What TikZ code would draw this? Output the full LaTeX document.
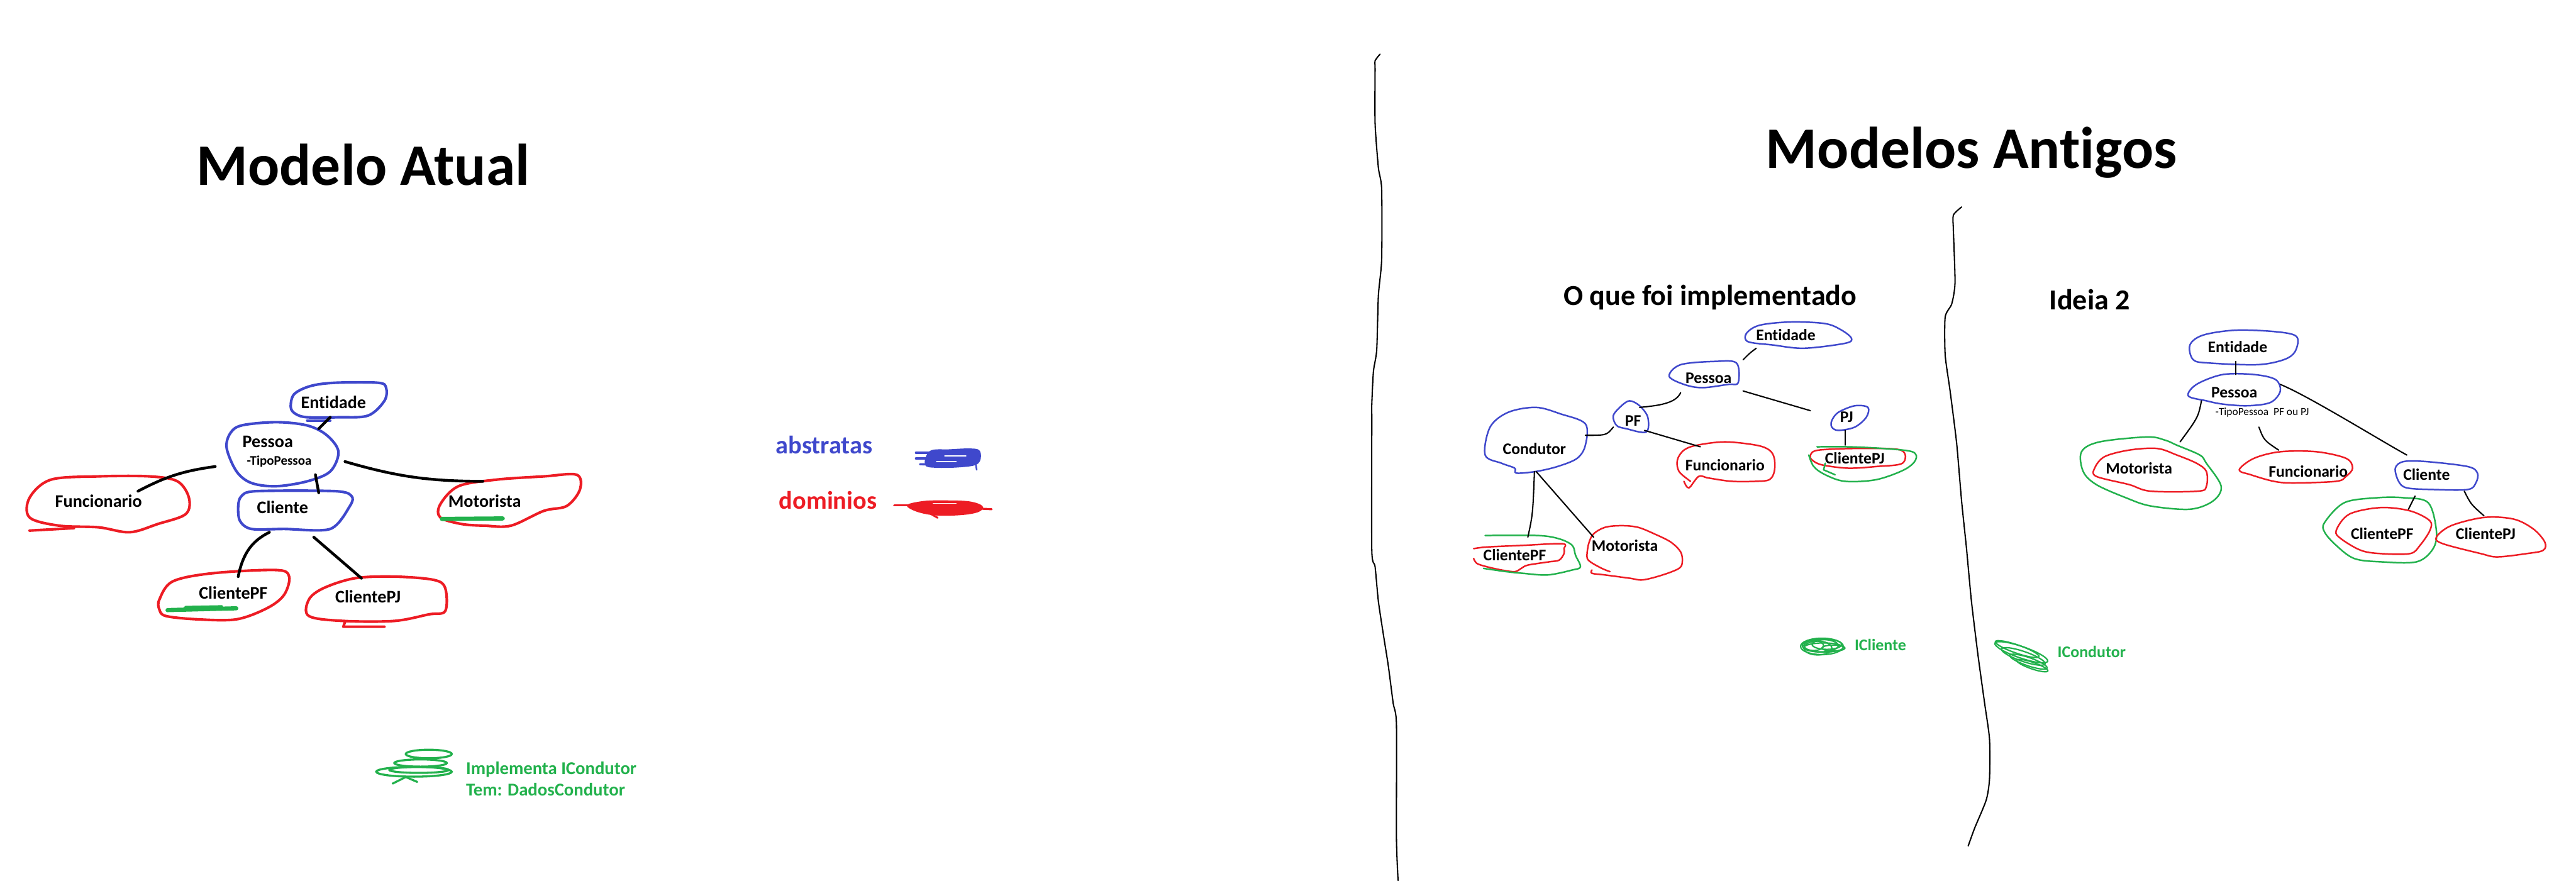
\documentclass[tikz,border=0pt]{standalone}
\usepackage{fontspec}
\setmainfont{Carlito}[Ligatures=NoCommon]
\usetikzlibrary{calc}
\definecolor{pblue}{HTML}{3F48CC}
\definecolor{pred}{HTML}{ED1C24}
\definecolor{pgreen}{HTML}{22B14C}
\begin{document}
\begin{tikzpicture}[x=0.03326cm, y=-0.03326cm,
  lblA/.style={font=\fontsize{10.2}{12}\selectfont\bfseries, inner sep=0pt},
  lblB/.style={font=\fontsize{9.3}{11}\selectfont\bfseries, inner sep=0pt},
  titleA/.style={font=\fontsize{33.9}{40}\selectfont\bfseries, inner sep=0pt, anchor=base},
  titleB/.style={font=\fontsize{16.7}{20}\selectfont\bfseries, inner sep=0pt, anchor=base},
  gtext/.style={font=\fontsize{10.4}{13}\selectfont\bfseries, text=pgreen, inner sep=0pt, anchor=base west},
  gtextS/.style={font=\fontsize{9.4}{11}\selectfont\bfseries, text=pgreen, inner sep=0pt, anchor=base west},
  legend/.style={font=\fontsize{14.6}{17}\selectfont\bfseries, inner sep=0pt, anchor=base},
  blobL/.style={line width=1.5pt, line join=round, line cap=round},
  blobM/.style={line width=0.9pt, line join=round, line cap=round},
  conL/.style={line width=1.6pt, line cap=round, line join=round},
  conM/.style={line width=0.75pt, line cap=round, line join=round},
  divider/.style={line width=0.75pt, line join=round, line cap=round},
  scrib/.style={pgreen, line width=0.8pt},
]
\useasboundingbox (0,0) rectangle (1568,536);

% ---------------- titles ----------------
\node[titleA] (tAtual) at (221,112.7) {Modelo Atual};
\node[titleA] (tAntigos) at (1200,102.5) {Modelos Antigos};
\node[titleB] (tImpl) at (1041,186) {O que foi implementado};
\node[titleB] (tIdeia) at (1272,188.7) {Ideia 2};

% ---------------- dividers ----------------
\draw[divider] plot[smooth, tension=0.4] coordinates {(840,33) (837,37) (837,42) (837,75) (839,102) (841,115) (841,158) (839,180) (838,213) (836,226) (835,246) (835,257) (835,335) (837,345) (839,366) (842,386) (845,405) (848,428) (850,441) (850,510) (851,536)};
\draw[divider] plot[smooth, tension=0.4] coordinates {(1194,126) (1189,131) (1189,140) (1190,172) (1188,185) (1184,193) (1184,216) (1187,238) (1191,270) (1194,305) (1197,334) (1200,366) (1204,399) (1208,428) (1211,450) (1211,474) (1209,487) (1202,504) (1198,515)};

% ================= Modelo Atual =================
\node[lblA] (LEnt) at (203,245) {Entidade};
\node[lblA] (LPes) at (163,269) {Pessoa};
\node[font=\fontsize{7.6}{9}\selectfont\bfseries, inner sep=0pt] (LTipo) at (170,281) {-TipoPessoa};
\node[lblA] (LFun) at (60,305) {Funcionario};
\node[lblA] (LCli) at (172,309) {Cliente};
\node[lblA] (LMot) at (295,305) {Motorista};
\node[lblA] (LCPF) at (142,361) {ClientePF};
\node[lblA] (LCPJ) at (224,363) {ClientePJ};

% blobs
\draw[blobL, pblue] plot[smooth cycle, tension=0.55] coordinates {(177,248) (179,240) (189,235) (204,233) (230,233) (235,236) (234,244) (224,253) (206,254) (187,254) (180,252)};
\draw[blobL, pblue] (187,256) -- (201,256);
\draw[blobL, pblue] plot[smooth cycle, tension=0.55] coordinates {(138,273) (140,264) (147,259) (168,257) (187,259) (199,265) (206,275) (201,287) (187,293) (168,296) (153,294) (144,287)};
\draw[blobL, pblue] plot[smooth cycle, tension=0.5] coordinates {(145,308) (147,302) (156,299) (204,299) (214,302) (213,308) (201,322) (173,322) (153,322) (146,317)};
\draw[blobL, pred] plot[smooth cycle, tension=0.55] coordinates {(18,303) (31,292) (60,290) (91,290) (108,293) (115,303) (113,313) (96,319) (79,324) (60,321) (36,320) (18,315)};
\draw[blobL, pred] (18,323) -- (45,321.5);
\draw[blobL, pred] plot[smooth cycle, tension=0.55] coordinates {(268,307) (279,296) (302,292) (331,290) (351,289) (353,298) (345,308) (331,311) (311,320) (295,320) (281,319) (268,315)};
\draw[blobL, pred] plot[smooth cycle, tension=0.55] coordinates {(97,365) (105,354) (129,349) (168,347) (176,351) (173,362) (163,370) (144,377) (120,377) (101,375) (97,371)};
\draw[blobL, pred] plot[smooth cycle, tension=0.55] coordinates {(188,365) (197,358) (216,352) (240,351) (264,353) (271,358) (271,372) (261,374) (240,378) (209,378) (188,375)};
\draw[blobL, pred] (210,378.5) -- (209,381.5) -- (234,381.5);
\draw[pgreen, line width=2.4pt, line cap=round] (269,315.9) -- (306,315.6);
\draw[pgreen, line width=2.4pt, line cap=round] (102,371.4) -- (143.8,370.3);
\draw[pgreen, line width=1.5pt, line cap=round] (113,369.6) -- (135,369.2);

% connectors
\draw[conL] ($(LEnt)+(-2,9)$) -- ($(LPes)+(31,-8)$);
\draw[conL] ($(LPes)+(-32,15)$) to[bend right=10] ($(LFun)+(24,-6)$);
\draw[conL] ($(LPes)+(47,12)$) to[bend right=8] ($(LMot)+(-1,-12)$);
\draw[conL] ($(LPes)+(29,20)$) -- ($(LCli)+(22,-9)$);
\draw[conL] ($(LCli)+(-8,15)$) .. controls ($(LCli)+(-18,20)$) and ($(LCPF)+(6,-25)$) .. ($(LCPF)+(3,-10)$);
\draw[conL] ($(LCli)+(19,18)$) -- ($(LCPJ)+(-4,-11)$);

% legend
\node[legend, text=pblue] (Labs) at (501.7,276.1) {abstratas};
\node[legend, text=pred] (Ldom) at (504,309.9) {dominios};
\fill[pblue] plot[smooth cycle, tension=0.6] coordinates {(566,274.5) (578,273.5) (590,273) (596,274) (597,279) (594,283) (584,284.5) (570,284.8) (563,283)};
\draw[pblue, line width=1.2pt, line cap=round] (557.5,275.6) -- (575,275.6);
\draw[pblue, line width=1.2pt, line cap=round] (557.5,279.1) -- (572,279.1);
\draw[pblue, line width=1.2pt, line cap=round] (560,282.6) -- (575,283);
\draw[white, line width=0.5pt, line cap=round] (575,277.5) -- (588,277.5);
\draw[white, line width=0.5pt, line cap=round] (570,281) -- (582,281);
\draw[pblue, line width=0.9pt, line cap=round] (594,283) -- (594.5,286);
\fill[pred] plot[smooth cycle, tension=0.6] coordinates {(552,307.5) (562,305) (575,304.6) (590,305.2) (598,308) (596,311.5) (586,313.5) (570,313.8) (558,311.5)};
\draw[white, line width=0.5pt, line cap=round] (568,306.5) -- (582,306.5);
\draw[pred, line width=1.2pt, line cap=round] (544.3,307.5) -- (560,307.5);
\draw[pred, line width=1.2pt, line cap=round] (585,309) -- (603.6,310);
\draw[pred, line width=1.1pt, line cap=round] (565.5,312.2) -- (570.7,315.2);

% green note
\draw[pgreen, line width=1.2pt] (261,459) ellipse [x radius=14, y radius=2.6];
\draw[pgreen, line width=1.2pt] (256,464.5) ellipse [x radius=16, y radius=2.2];
\draw[pgreen, line width=1.2pt] (252,469.8) ellipse [x radius=23, y radius=3];
\draw[pgreen, line width=1.2pt] (255,468.7) ellipse [x radius=18, y radius=1.8];
\draw[pgreen, line width=1.2pt, line cap=round, line join=round] (239,477) -- (247,473) -- (254,476);
\node[gtext] (GImp1) at (283.5,471.5) {Implementa ICondutor};
\node[gtext] (GImp2) at (283.5,484.6) {Tem: DadosCondutor};

% ================= O que foi implementado =================
\node[lblB] (MEnt) at (1087,204) {Entidade};
\node[lblB] (MPes) at (1040,230) {Pessoa};
\node[lblB] (MPF) at (994,256) {PF};
\node[lblB] (MPJ) at (1124,254) {PJ};
\node[lblB] (MCPJ) at (1129,279) {ClientePJ};
\node[lblB] (MCond) at (934,273) {Condutor};
\node[lblB] (MFun) at (1050,283) {Funcionario};
\node[lblB] (MCPF) at (922,338) {ClientePF};
\node[lblB] (MMot) at (989,332) {Motorista};

\draw[blobM, pblue] plot[smooth cycle, tension=0.55] coordinates {(1063,203) (1071,198) (1090,196) (1111,197) (1121,201) (1127,206) (1123,209) (1098,212) (1079,210) (1064,208)};
\draw[blobM, pblue] plot[smooth cycle, tension=0.55] coordinates {(1016,229) (1023,222) (1044,220) (1057,221) (1058,233) (1052,234) (1036,236) (1025,234)};
\draw[blobM, pblue] plot[smooth cycle, tension=0.55] coordinates {(982,253) (987,247) (992,244) (998,247) (1003,254) (1002,263) (990,261) (984,259)};
\draw[blobM, pblue] plot[smooth cycle, tension=0.55] coordinates {(1115,256) (1119,251) (1129,247) (1137,248) (1136,254) (1129,260) (1119,262) (1115,260)};
\draw[blobM, pblue] plot[smooth cycle, tension=0.55] coordinates {(904,277) (907,260) (918,251) (935,248) (950,252) (965,258) (965,271) (960,279) (948,284) (935,287) (923,288) (922,285) (914,282)};
\draw[blobM, pred] plot[smooth cycle, tension=0.55] coordinates {(1102,277) (1107,274) (1132,273) (1157,274) (1158,282) (1142,284) (1125,285) (1109,283) (1103,280)};
\draw[blobM, pgreen] plot[smooth, tension=0.55] coordinates {(1106,272) (1125,272) (1146,273) (1164,275) (1166,280) (1159,286) (1142,292) (1123,293) (1111,289) (1104,284) (1101,277)};
\draw[blobM, pgreen] (1111,282) -- (1110,286) -- (1117,289);
\draw[blobM, pred] plot[smooth, tension=0.55] coordinates {(1029,293) (1022,287) (1021,280) (1025,274) (1033,271) (1050,269) (1069,271) (1077,274) (1080,279) (1080,287) (1077,292) (1069,293) (1054,293) (1040,291) (1034,290) (1028,297) (1025,293)};
\draw[blobM, pred] plot[smooth, tension=0.55] coordinates {(897,334) (905,333) (927,332) (951,331) (952,334) (952,337) (949,341) (943,342) (930,344) (926,346) (922,348) (914,347) (905,345) (899,343) (897,340)};
\draw[blobM, pgreen] plot[smooth, tension=0.55] coordinates {(904,326) (936,326) (949,328) (957,332) (959,338) (962,345) (957,347) (942,350) (927,349) (917,348) (903,346)};
\draw[blobM, pred] plot[smooth, tension=0.55] coordinates {(980,348) (975,346) (968,342) (966,339) (967,331) (970,325) (977,321) (987,320) (997,321) (1007,325) (1017,330) (1023,336) (1024,342) (1022,346) (1012,350) (1000,353) (992,352) (977,350) (969,349) (969,347)};

\draw[conM] ($(MEnt)+(-18,8)$) .. controls ($(MEnt)+(-22,11)$) .. ($(MPes)+(21,-11)$);
\draw[conM] ($(MPes)+(-17,9)$) .. controls ($(MPes)+(-20,16)$) and ($(MPF)+(14,-9)$) .. ($(MPF)+(4,-8)$);
\draw[conM] ($(MPes)+(21,8)$) -- ($(MPJ)+(-22,-4)$);
\draw[conM] ($(MPJ)+(-1,8)$) -- ($(MCPJ)+(-6,-8)$);
\draw[conM] ($(MPF)+(-12,4)$) .. controls ($(MPF)+(-16,9)$) .. ($(MCond)+(31,-8)$);
\draw[conM] ($(MPF)+(7,6)$) -- ($(MFun)+(-15,-11)$);
\draw[conM] ($(MCond)+(0,14)$) .. controls ($(MCond)+(-1,40)$) .. ($(MCPF)+(8,-11)$);
\draw[conM] ($(MCond)+(1,14)$) -- ($(MMot)+(-19,-5)$);

% ICliente
\draw[scrib] (1109,393.5) ellipse [x radius=13, y radius=5];
\draw[scrib] (1108,393) ellipse [x radius=11, y radius=3.8];
\draw[scrib] (1110,394.2) ellipse [x radius=12, y radius=2.8];
\draw[scrib] (1106.5,394.5) ellipse [x radius=8.5, y radius=4.2];
\draw[scrib] (1112,392.3) ellipse [x radius=9, y radius=3];
\draw[scrib] (1116,394.5) ellipse [x radius=7, y radius=1.8];
\draw[scrib] (1104,393) ellipse [x radius=6, y radius=3];
\node[gtextS] (GICli) at (1128.7,395.9) {ICliente};

% ================= Ideia 2 =================
\node[lblB] (REnt) at (1362,211) {Entidade};
\node[lblB] (RPes) at (1360,239) {Pessoa};
\node[font=\fontsize{6.3}{7.5}\selectfont, inner sep=0pt] (RTipo) at (1377,251) {-TipoPessoa\ \ PF ou PJ};
\node[lblB] (RMot) at (1302,285) {Motorista};
\node[lblB] (RFun) at (1405,287) {Funcionario};
\node[lblB] (RCli) at (1477,289) {Cliente};
\node[lblB] (RCPF) at (1450,325) {ClientePF};
\node[lblB] (RCPJ) at (1513,325) {ClientePJ};

\draw[blobM, pblue] plot[smooth cycle, tension=0.55] coordinates {(1333,210) (1341,204) (1361,201) (1386,202) (1398,205) (1397,214) (1390,219) (1374,222) (1345,221) (1335,219)};
\draw[blobM, pblue] plot[smooth cycle, tension=0.55] coordinates {(1332,241) (1337,234) (1353,228) (1372,228) (1385,231) (1388,238) (1382,245) (1368,247) (1353,246) (1343,244)};
\draw[blobM, pblue] plot[smooth cycle, tension=0.55] coordinates {(1458,285) (1463,281) (1477,281) (1502,284) (1508,288) (1507,294) (1502,298) (1481,298) (1465,297) (1460,293)};
\draw[blobM, pgreen] plot[smooth cycle, tension=0.55] coordinates {(1267,275) (1278,269) (1307,266) (1318,268) (1325,271) (1339,277) (1343,282) (1352,296) (1347,305) (1333,310) (1309,308) (1294,303) (1276,295) (1268,287)};
\draw[blobM, pred] plot[smooth cycle, tension=0.55] coordinates {(1275,285) (1281,278) (1296,274) (1313,273) (1325,277) (1337,282) (1343,287) (1343,296) (1338,299) (1309,299) (1296,295) (1276,290)};
\draw[blobM, pred] plot[smooth cycle, tension=0.55] coordinates {(1363,286) (1372,279) (1388,275) (1410,275) (1428,279) (1432,285) (1428,290) (1422,293) (1396,294) (1384,293) (1370,289)};
\draw[blobM, pgreen] plot[smooth cycle, tension=0.55] coordinates {(1415,318) (1427,306) (1447,303) (1463,303) (1478,306) (1483,323) (1481,334) (1471,342) (1449,342) (1433,340) (1422,332) (1415,324)};
\draw[blobM, pred] plot[smooth cycle, tension=0.55] coordinates {(1422,323) (1430,313) (1449,309) (1467,311) (1479,317) (1479,323) (1473,332) (1467,337) (1449,337) (1437,335) (1425,328)};
\draw[blobM, pred] plot[smooth cycle, tension=0.55] coordinates {(1483,327) (1492,320) (1512,315) (1530,316) (1542,322) (1549,330) (1548,335) (1538,337) (1520,339) (1510,337) (1487,331)};

\draw[conM] ($(REnt)+(-1,9)$) -- ($(RPes)+(1,-11)$);
\draw[conM] ($(RPes)+(-20,5)$) .. controls ($(RPes)+(-22,15)$) .. ($(RMot)+(25,-16)$);
\draw[conM] ($(RPes)+(15,21)$) .. controls ($(RPes)+(18,29)$) .. ($(RFun)+(-18,-13)$);
\draw[conM] ($(RPes)+(28,-5)$) .. controls ($(RPes)+(45,2)$) and ($(RCli)+(-30,-22)$) .. ($(RCli)+(-12,-12)$);
\draw[conM] ($(RCli)+(-7,13)$) -- ($(RCPF)+(16,-15)$);
\draw[conM] ($(RCli)+(23,10)$) .. controls ($(RCli)+(27,18)$) .. ($(RCPJ)+(-1,-11)$);

% ICondutor
\begin{scope}[rotate around={-19:(1230,398)}]
\draw[scrib] (1230,397) ellipse [x radius=17, y radius=3.5];
\draw[scrib] (1232,399) ellipse [x radius=14, y radius=3];
\draw[scrib] (1236,401) ellipse [x radius=12, y radius=2.5];
\draw[scrib] (1227,396) ellipse [x radius=14, y radius=2.5];
\draw[scrib] (1239,402.5) ellipse [x radius=10, y radius=2];
\end{scope}
\node[gtextS] (GICond) at (1252.2,400.4) {ICondutor};
\end{tikzpicture}
\end{document}
